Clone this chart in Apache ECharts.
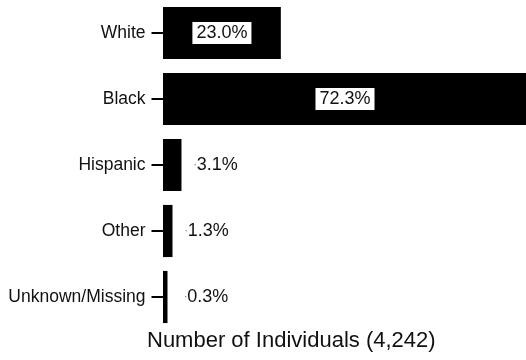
<!DOCTYPE html>
<html>
<head>
<meta charset="utf-8">
<style>
  html, body { margin: 0; padding: 0; background: #fff; }
  #chart { width: 526px; height: 360px; }
</style>
<script src="https://cdn.jsdelivr.net/npm/echarts@6/dist/echarts.min.js"></script>
</head>
<body>
<div id="chart"></div>
<script>
// Race / ethnicity breakdown, share of individuals (%)
const categories = ['White', 'Black', 'Hispanic', 'Other', 'Unknown/Missing'];
const shares = [23.0, 72.3, 3.1, 1.3, 0.3];
const axisTitle = 'Number of Individuals (4,242)';

const FONT = '"Liberation Sans", Arial, Helvetica, sans-serif';
const INSIDE_MIN = 10;   // bars wide enough to hold their label in a white box
const OUTLINE = 1.5;     // black outline drawn around each bar
const BAR_FRACTION = 0.79;

function pct(v) { return v.toFixed(1) + '%'; }

// Each bar is a black rectangle from 0 to its value, with its percentage label.
function renderBar(params, api) {
  const v = api.value(0);
  const ci = api.value(1);
  const p0 = api.coord([0, ci]);
  const p1 = api.coord([v, ci]);
  const band = api.size([0, 1])[1];
  const h = band * BAR_FRACTION;
  const x0 = p0[0] - OUTLINE;
  const x1 = p1[0] + OUTLINE;
  const yc = p0[1];

  const children = [{
    type: 'rect',
    shape: { x: x0, y: yc - h / 2, width: x1 - x0, height: h },
    style: { fill: '#000' }
  }];

  if (v >= INSIDE_MIN) {
    children.push({
      type: 'text',
      z2: 10,
      style: {
        x: (x0 + x1) / 2,
        y: yc,
        text: pct(v),
        align: 'center',
        verticalAlign: 'middle',
        fontSize: 18,
        fontFamily: FONT,
        lineHeight: 18,
        fill: '#111',
        backgroundColor: '#ffffff',
        padding: [2, 4, 2, 4]
      }
    });
  } else {
    children.push({
      type: 'text',
      z2: 10,
      style: {
        x: Math.max(x1 + 12, x0 + 21),
        y: yc,
        text: '{d|·}{v|' + pct(v) + '}',
        align: 'left',
        verticalAlign: 'middle',
        rich: {
          d: { fontSize: 10, lineHeight: 20, fill: '#666', fontFamily: FONT },
          v: { fontSize: 18, lineHeight: 20, fill: '#111', fontFamily: FONT }
        }
      }
    });
  }
  return { type: 'group', children: children };
}

const chart = echarts.init(document.getElementById('chart'), null, { renderer: 'canvas' });
chart.setOption({
  animation: false,
  backgroundColor: '#ffffff',
  textStyle: { fontFamily: FONT },
  title: {
    text: axisTitle,
    left: 147,
    top: 330,
    padding: 0,
    textStyle: { fontSize: 22, fontWeight: 'normal', color: '#111', fontFamily: FONT }
  },
  grid: { left: 164.5, right: 0, top: 0, bottom: 30, containLabel: false },
  xAxis: {
    type: 'value',
    min: 0,
    max: 72.4,
    axisLine: { show: false },
    axisTick: { show: false },
    axisLabel: { show: false },
    splitLine: { show: false }
  },
  yAxis: {
    type: 'category',
    data: categories,
    inverse: true,
    axisLine: { show: false },
    axisTick: { show: true, alignWithLabel: true, length: 13, lineStyle: { color: '#000', width: 2 } },
    axisLabel: { margin: 19, fontSize: 17.5, color: '#111', fontFamily: FONT }
  },
  series: [{
    type: 'custom',
    renderItem: renderBar,
    clip: false,
    encode: { x: 0, y: 1 },
    data: shares.map(function (v, i) { return [v, i]; })
  }]
});
</script>
</body>
</html>
